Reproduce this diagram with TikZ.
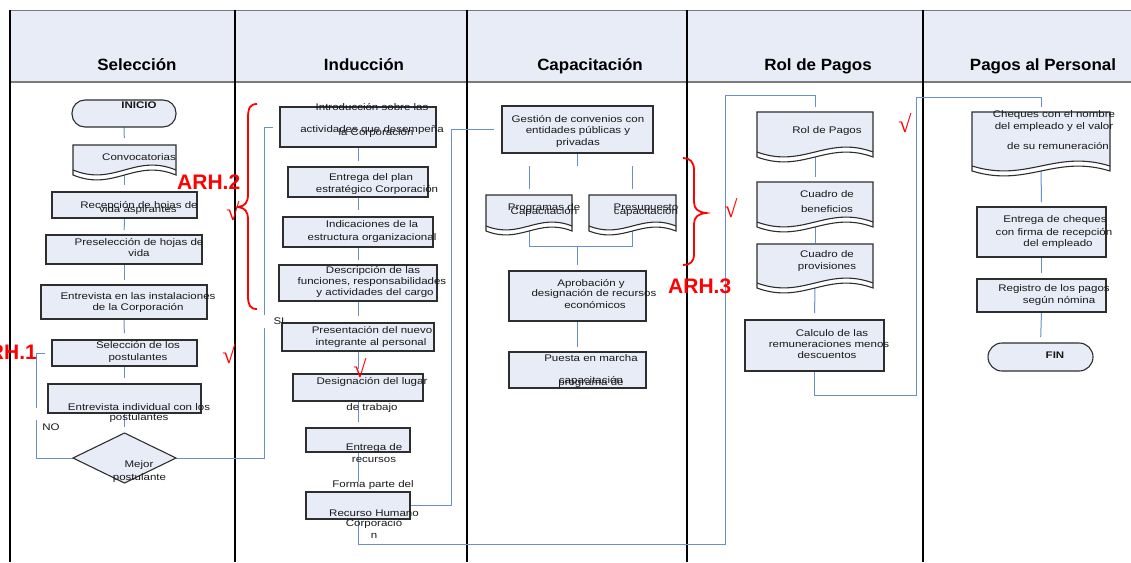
\documentclass[tikz,border=0pt]{standalone}
\usepackage{fontspec}
\setmainfont{Liberation Sans}
\newfontfamily\bodyf[FakeStretch=1.2]{Liberation Sans}
\newfontfamily\headf[FakeStretch=1.04]{Liberation Sans}
\newfontfamily\chkf{Liberation Serif}
\usetikzlibrary{shapes.geometric}
\definecolor{lav}{HTML}{E8ECF7}
\definecolor{connb}{HTML}{6A8FD0}
\definecolor{boxc}{HTML}{2E2E2E}
\definecolor{hdrl}{HTML}{7A7A7A}
\definecolor{arhred}{HTML}{FF0000}
\pgfdeclarelayer{bg}
\pgfdeclarelayer{mid}
\pgfsetlayers{bg,mid,main}
\tikzset{
 boxst/.style={draw=boxc, fill=lav, line width=1.1pt, inner sep=0pt, outer sep=0pt},
 conn/.style={draw=connb, line width=1pt},
 txt/.style={font=\bodyf\fontsize{9.6}{11}\selectfont, anchor=base, inner sep=0pt, text=black!90},
 btxt/.style={txt, font=\bodyf\bfseries\fontsize{9.6}{11}\selectfont},
 hdr/.style={font=\headf\bfseries\fontsize{16.3}{18}\selectfont, anchor=base, inner sep=0pt},
 arh/.style={font=\bfseries\fontsize{21}{21}\selectfont, text=arhred, inner sep=0pt},
 chk/.style={font=\chkf\fontsize{24}{24}\selectfont, text=arhred, inner sep=0pt},
 bracest/.style={draw=arhred, line width=1.8pt},
 lanest/.style={draw=black, line width=1.3pt},
}
\newcommand\mybox[5]{\node[boxst, minimum width={(#4-#2)*1pt}, minimum height={(#5-#3)*1pt}] (#1) at ({(#2+#4)/2},{(#3+#5)/2}) {};}
\newcommand\mytxt[4]{\node[txt] (#1) at (#2,#3) {#4};}
\newcommand\mydoc[6]{%
 \pgfmathsetmacro\dL{#2+0.4*(#4-#2)}%
 \pgfmathsetmacro\dR{#4-0.4*(#4-#2)}%
 \pgfmathsetmacro\dK{3.4*#6}%
 \pgfmathsetmacro\dW{#5+5}%
 \fill[white] (#2,#3) -- (#4,#3) -- (#4,\dW) .. controls (\dR,{\dW-\dK}) and (\dL,{\dW+\dK}) .. (#2,\dW) -- cycle;
 \fill[lav] (#2,#3) -- (#4,#3) -- (#4,#5) .. controls (\dR,{#5-\dK}) and (\dL,{#5+\dK}) .. (#2,#5) -- cycle;
 \draw[draw=boxc, line width=1.1pt] (#2,#3) -- (#4,#3) -- (#4,\dW) .. controls (\dR,{\dW-\dK}) and (\dL,{\dW+\dK}) .. (#2,\dW) -- cycle;
 \draw[draw=boxc, line width=1.1pt] (#4,#5) .. controls (\dR,{#5-\dK}) and (\dL,{#5+\dK}) .. (#2,#5);
 \node[inner sep=0pt, outer sep=0pt, minimum width={(#4-#2)*1pt}, minimum height={(#5-#3)*1pt}] (#1) at ({(#2+#4)/2},{(#3+#5)/2}) {};
}
\begin{document}
\begin{tikzpicture}[x=1pt,y=-1pt]
\useasboundingbox (0,0) rectangle (1131,562);
\clip (0,0) rectangle (1131,562);
\begin{pgfonlayer}{bg}
\fill[white] (0,0) rectangle (1131,562);
\fill[lav] (10,10) rectangle (1131,82);
\draw[hdrl, line width=1.6pt] (10,10.5) -- (1131,10.5);
\draw[hdrl, line width=2pt] (10,82) -- (1131,82);
\foreach \lx in {10,235,467,687,923} {\draw[lanest] (\lx,10) -- (\lx,562);}
\end{pgfonlayer}
\node[hdr] (h1) at (137,70) {Selección};
\node[hdr] (h2) at (364,70) {Inducción};
\node[hdr] (h3) at (590,70) {Capacitación};
\node[hdr] (h4) at (818,70) {Rol de Pagos};
\node[hdr] (h5) at (1043,70) {Pagos al Personal};

% coordinates for connector bends
\coordinate (noA) at (36,458); \coordinate (noB) at (36,420);
\coordinate (noC) at (36,408); \coordinate (noD) at (36,353);
\coordinate (siA) at (264,458); \coordinate (siB) at (264,328);
\coordinate (siC) at (264,315); \coordinate (siD) at (264,127);
\coordinate (fgB) at (451,129.5);
\coordinate (frB) at (725,544); \coordinate (frD) at (815,95);
\coordinate (ccB) at (916,395); \coordinate (ccD) at (1041,97);
\coordinate (gA) at (577.5,166); \coordinate (pA) at (529,166); \coordinate (pB) at (632.5,166);
\coordinate (jA) at (529,246); \coordinate (jB) at (632.5,246); \coordinate (jM) at (577.5,246);

% Selección
\node[boxst, rounded corners=13pt, minimum width=104pt, minimum height=27pt] (inicio) at (124,113.5) {};
\mydoc{conv}{73}{145}{176}{170}{5}
\mybox{recep}{52}{192}{197}{218}
\mybox{presel}{46}{235}{202}{264}
\mybox{entr}{41}{285}{207}{319}
\mybox{selp}{52}{340}{197}{366}
\mybox{entind}{48}{384}{201}{413}
\node[boxst, diamond, aspect=2, minimum width=103pt, minimum height=50pt] (dia) at (124.5,458) {};
% Inducción
\mybox{intro}{280}{107}{436}{147}
\mybox{plan}{288}{167}{428}{197}
\mybox{indic}{283}{217}{433}{247}
\mybox{desc}{279}{265}{437}{301}
\mybox{pres}{282}{323}{434}{351}
\mybox{desig}{293}{374}{423}{401}
\mybox{entrec}{306}{428}{410}{452}
\mybox{forma}{306}{492}{410}{519}
% Capacitación
\mybox{gest}{502}{106}{653}{153}
\mydoc{prog}{486}{195}{572}{226}{4}
\mydoc{presu}{589}{195}{676}{226}{4}
\mybox{aprob}{509}{271}{646}{321}
\mybox{puesta}{509}{352}{646}{388}
% Rol de Pagos
\mydoc{rol}{757}{112}{873}{152}{5}
\mydoc{cuadb}{757}{182}{873}{222}{5}
\mydoc{cuadp}{757}{244}{873}{283}{5}
\mybox{calc}{745}{320}{884}{371}
% Pagos
\mydoc{cheq}{972}{112}{1110}{166}{5}
\mybox{entch}{977}{207}{1106}{257}
\mybox{reg}{977}{279}{1106}{312}
\node[boxst, rounded corners=14pt, minimum width=105pt, minimum height=28pt] (fin) at (1040.5,357) {};

% ---------- connectors (behind the shapes)
\begin{pgfonlayer}{mid}
\draw[conn, shorten >=7pt] (inicio.south) -- (conv.north);
\draw[conn, shorten >=7pt] (conv.south) -- (recep.north);
\draw[conn, shorten >=5pt] (recep.south) -- (presel.north);
\draw[conn, shorten >=5pt] (presel.south) -- (entr.north);
\draw[conn, shorten >=7pt] (entr.south) -- (selp.north);
\draw[conn, shorten >=6pt] (selp.south) -- (entind.north);
\draw[conn, shorten >=6pt] (entind.south) -- (dia.north);
\draw[conn] (dia.west) -- (noA) -- (noB);
\draw[conn, shorten >=7pt] (noC) -- (noD) -- (selp.west);
\draw[conn] (dia.east) -- (siA) -- (siB);
\draw[conn, shorten >=7pt] (siC) -- (siD) -- (intro.west);
\draw[conn, shorten >=6pt] (intro.south) -- (plan.north);
\draw[conn, shorten >=7pt] (plan.south) -- (indic.north);
\draw[conn, shorten >=5pt] (indic.south) -- (desc.north);
\draw[conn, shorten >=7pt] (desc.south) -- (pres.north);
\draw[conn, shorten >=5pt] (pres.south) -- (desig.north);
\draw[conn, shorten >=6pt] (desig.south) -- (entrec.north);
\draw[conn, shorten >=10pt] (entrec.south) -- (forma.north);
\draw[conn, shorten >=8pt] (forma.east) -| (fgB) -- (gest.west);
\draw[conn, shorten >=5pt] (forma.south) |- (frB) |- (frD) -- (rol.north);
\draw[conn] (gest.south) -- (gA);
\draw[conn, shorten >=6pt] (pA) -- (prog.north);
\draw[conn, shorten >=6pt] (pB) -- (presu.north);
\draw[conn] (prog.south) -- (jA) -- (jB) -- (presu.south);
\draw[conn, shorten >=6pt] (jM) -- (aprob.north);
\draw[conn, shorten >=5pt] (aprob.south) -- (puesta.north);
\draw[conn, shorten >=5pt] (rol.south) -- (cuadb.north);
\draw[conn, shorten >=1pt] (cuadb.south) -- (cuadp.north);
\draw[conn, shorten >=7pt] (cuadp.south) -- (calc.north);
\draw[conn, shorten >=5pt] (calc.south) |- (ccB) |- (ccD) -- (cheq.north);
\draw[conn, shorten >=5pt] (cheq.south) -- (entch.north);
\draw[conn, shorten >=6pt] (entch.south) -- (reg.north);
\draw[conn, shorten >=6pt] (reg.south) -- (fin.north);
\end{pgfonlayer}

% ---------- texts
\node[btxt] (tini) at (139,108.5) {INICIO};
\mytxt{t1}{139}{160.5}{Convocatorias}
\mytxt{t2}{139}{208.5}{Recepción de hojas de}
\mytxt{t3}{138}{212.5}{vida aspirantes}
\mytxt{t4}{139}{245.5}{Preselección de hojas de}
\mytxt{t5}{139}{256.5}{vida}
\mytxt{t6}{138}{299.5}{Entrevista en las instalaciones}
\mytxt{t7}{138}{310.5}{de la Corporación}
\mytxt{t8}{138}{348.5}{Selección de los}
\mytxt{t9}{138}{360.5}{postulantes}
\mytxt{t10}{139}{410.5}{Entrevista individual con los}
\mytxt{t11}{139}{420.5}{postulantes}
\mytxt{t12}{139}{467.5}{Mejor}
\mytxt{t13}{139.5}{480.5}{postulante}
\mytxt{tno}{51}{430.5}{NO}
\mytxt{tsi}{279}{324.5}{SI}
\mytxt{t20}{372}{110.5}{Introducción sobre las}
\mytxt{t21}{372}{132.5}{actividades que desempeña}
\mytxt{t22}{376}{135.5}{la Corporación}
\mytxt{t23}{371}{180.5}{Entrega del plan}
\mytxt{t24}{377}{192.5}{estratégico Corporación}
\mytxt{t25}{372}{227.5}{Indicaciones de la}
\mytxt{t26}{372}{240.5}{estructura organizacional}
\mytxt{t27}{373}{273.5}{Descripción de las}
\mytxt{t28}{372}{284.5}{funciones, responsabilidades}
\mytxt{t29}{375}{295.5}{y actividades del cargo}
\mytxt{t30}{372}{333.5}{Presentación del nuevo}
\mytxt{t31}{371}{345.5}{integrante al personal}
\mytxt{t32}{372}{384.5}{Designación del lugar}
\mytxt{t33}{372}{410.5}{de trabajo}
\mytxt{t34}{374}{450.5}{Entrega de}
\mytxt{t35}{374}{462.5}{recursos}
\mytxt{t36}{373}{487.5}{Forma parte del}
\mytxt{t37}{374}{516.5}{Recurso Humano}
\mytxt{t38}{374}{526.5}{Corporació}
\mytxt{t39}{374}{538.5}{n}
\mytxt{t40}{578}{122.5}{Gestión de convenios con}
\mytxt{t41}{578}{133.5}{entidades públicas y}
\mytxt{t42}{578}{145.5}{privadas}
\mytxt{t43}{544}{210.5}{Programas de}
\mytxt{t44}{544}{214.5}{Capacitación}
\mytxt{t45}{646}{210.5}{Presupuesto}
\mytxt{t46}{646}{214.5}{capacitación}
\mytxt{t47}{591}{286.5}{Aprobación y}
\mytxt{t48}{594}{296.5}{designación de recursos}
\mytxt{t49}{595}{308.5}{económicos}
\mytxt{t50}{591}{361.5}{Puesta en marcha}
\mytxt{t51}{591}{383.5}{capacitación}
\mytxt{t52}{591}{385.5}{programa de}
\mytxt{t60}{827}{133.5}{Rol de Pagos}
\mytxt{t61}{827}{197.5}{Cuadro de}
\mytxt{t62}{827}{212.5}{beneficios}
\mytxt{t63}{827}{257.5}{Cuadro de}
\mytxt{t64}{827}{269.5}{provisiones}
\mytxt{t65}{832}{336.5}{Calculo de las}
\mytxt{t66}{829}{347.5}{remuneraciones menos}
\mytxt{t67}{827}{358.5}{descuentos}
\mytxt{t70}{1054}{117.5}{Cheques con el nombre}
\mytxt{t71}{1054}{129.5}{del empleado y el valor}
\mytxt{t72}{1058}{149.5}{de su remuneración}
\mytxt{t73}{1055}{222.5}{Entrega de cheques}
\mytxt{t74}{1054}{235.5}{con firma de recepción}
\mytxt{t75}{1058}{246.5}{del empleado}
\mytxt{t76}{1054}{291.5}{Registro de los pagos}
\mytxt{t77}{1059}{303.5}{según nómina}
\node[btxt] (tfin) at (1055,358.5) {FIN};

% ---------- red annotations
\draw[bracest] (257,104) .. controls (250,104) and (248,108) .. (248,118) -- (248,194) .. controls (248,203) and (245,206) .. (238,207) .. controls (245,208) and (248,211) .. (248,220) -- (248,296) .. controls (248,305) and (250,309) .. (257,309);
\draw[bracest] (683,158) .. controls (690,158) and (694,162) .. (694,170) -- (694,202) .. controls (694,209) and (698,212) .. (706,213) .. controls (698,214) and (694,217) .. (694,224) -- (694,254) .. controls (694,262) and (690,265) .. (683,265);
\node[arh, anchor=base west] (arh2) at (177,189) {ARH.2};
\node[arh, anchor=base east] (arh1) at (37,359) {ARH.1};
\node[arh, anchor=base west] (arh3) at (668,293) {ARH.3};
\node[chk] (c1) at (233,211) {√};
\node[chk] (c2) at (229,354) {√};
\node[chk] (c3) at (360,368) {√};
\node[chk] (c4) at (731,208) {√};
\node[chk] (c5) at (905,123) {√};
\end{tikzpicture}
\end{document}
